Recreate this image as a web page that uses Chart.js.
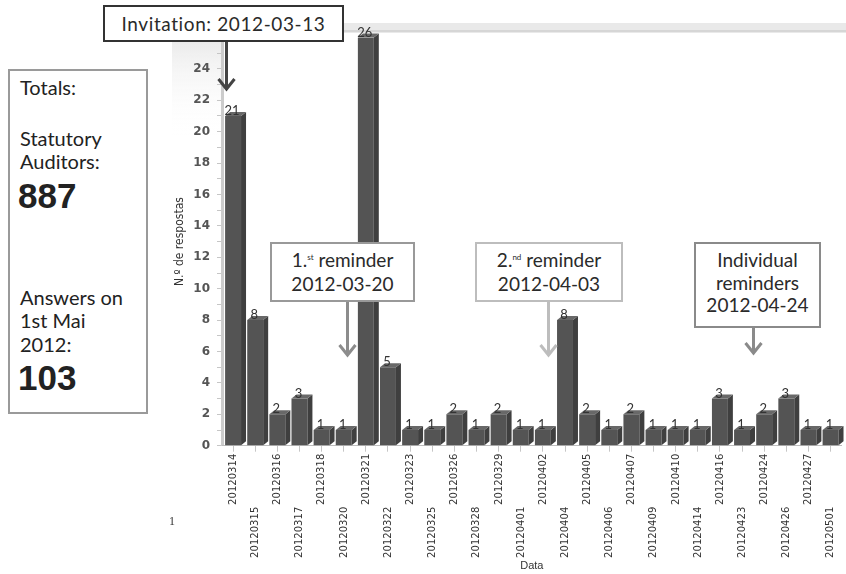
<!DOCTYPE html>
<html>
<head>
<meta charset="utf-8">
<script src="https://cdn.jsdelivr.net/npm/chart.js@4/dist/chart.umd.min.js"></script>
<style>
  html, body { margin: 0; padding: 0; background: #fff; }
  #wrap { position: relative; width: 846px; height: 574px; overflow: hidden; }
  #chart { position: absolute; left: 0; top: 0; }
  .note {
    position: absolute; box-sizing: border-box; background: #fff;
    font-family: Lato, "Open Sans", sans-serif; font-size: 19px; color: #2a2a2a;
    text-align: center; line-height: 24px; white-space: nowrap;
  }
  .note sup { font-size: 8px; vertical-align: 7px; line-height: 0; }
  #totals {
    position: absolute; left: 8px; top: 69px; width: 140px; height: 345px;
    box-sizing: border-box; border: 2px solid #9a9a9a; background: #fff;
    font-family: Lato, "Open Sans", sans-serif; color: #222;
  }
  #totals div { position: absolute; left: 10px; white-space: nowrap; font-size: 20px; line-height: 24px; }
  #totals .big { font-family: "Liberation Sans", Arial, sans-serif; font-weight: bold; font-size: 35px; line-height: 40px; left: 8px; }
  #stray { position: absolute; left: 169px; top: 514px; font-family: "Liberation Serif", serif; font-size: 12px; color: #333; }
</style>
</head>
<body>
<div id="wrap">
  <canvas id="chart" width="846" height="574"></canvas>

  <div id="totals">
    <div style="top:4px">Totals:</div>
    <div style="top:55px">Statutory</div>
    <div style="top:78px">Auditors:</div>
    <div class="big" style="top:105px">887</div>
    <div style="top:214px">Answers on</div>
    <div style="top:237px">1st Mai</div>
    <div style="top:261px">2012:</div>
    <div class="big" style="top:287px">103</div>
  </div>

  <div class="note" style="left:103px; top:5px; width:241px; height:37px; border:2px solid #333; padding-top:5px; letter-spacing:0.6px;">Invitation: 2012-03-13</div>
  <div class="note" style="left:270px; top:242px; width:145px; height:60px; border:2px solid #999; padding-top:4px;">1.<sup>st</sup> reminder<br>2012-03-20</div>
  <div class="note" style="left:475px; top:242px; width:148px; height:60px; border:2px solid #bdbdbd; padding-top:4px;">2.<sup>nd</sup> reminder<br>2012-04-03</div>
  <div class="note" style="left:694px; top:242px; width:127px; height:86px; border:2px solid #8a8a8a; padding-top:5px; line-height:22.5px;">Individual<br>reminders<br>2012-04-24</div>

  <div id="stray">1</div>
</div>

<script>
// Daily number of answers received, by date (yyyymmdd)
const categories = [
  '20120314', '20120315', '20120316', '20120317', '20120318', '20120320',
  '20120321', '20120322', '20120323', '20120325', '20120326', '20120328',
  '20120329', '20120401', '20120402', '20120404', '20120405', '20120406',
  '20120407', '20120409', '20120410', '20120414', '20120416', '20120423',
  '20120424', '20120426', '20120427', '20120501'
];
const responses = [
  21, 8, 2, 3, 1, 1,
  26, 5, 1, 1, 2, 1,
  2, 1, 1, 8, 2, 1,
  2, 1, 1, 1, 3, 1,
  2, 3, 1, 1
];
const yMax = 26;
const yLabelStep = 2;

// Arrows under the event boxes, anchored on the category axis (fractional index)
const eventArrows = [
  { at: -0.32, from: 42,  to: 90,  color: '#444444' },
  { at: 5.15,  from: 302, to: 356, color: '#8c8c8c' },
  { at: 14.22, from: 302, to: 356, color: '#bdbdbd' },
  { at: 23.5,  from: 328, to: 354, color: '#8a8a8a' }
];

const DEPTH_X = 5, DEPTH_Y = 4;
const ROW_A_HEIGHT = 60;
const LABEL_FONT = { family: '"Liberation Sans Narrow", "DejaVu Sans Condensed", sans-serif', size: 11.2 };

// light back-wall band and fading side wall behind the axis
const backdrop = {
  id: 'backdrop',
  beforeDraw(chart) {
    const { ctx, chartArea } = chart;
    ctx.save();
    ctx.fillStyle = '#e9e9e9';
    ctx.fillRect(170, 23, chart.width - 170, 10);
    ctx.fillStyle = '#d6d6d6';
    ctx.fillRect(170, 30, chart.width - 170, 2);
    const g = ctx.createLinearGradient(0, chartArea.top - 4, 0, 140);
    g.addColorStop(0, 'rgba(225,225,225,0.75)');
    g.addColorStop(1, 'rgba(255,255,255,0)');
    ctx.fillStyle = g;
    ctx.fillRect(172, chartArea.top - 4, chartArea.left - 172, 140 - chartArea.top);
    ctx.restore();
  }
};

// extruded side/top faces and the value printed above each bar
const bars3d = {
  id: 'bars3d',
  afterDatasetsDraw(chart) {
    const { ctx } = chart;
    const meta = chart.getDatasetMeta(0);
    const values = chart.data.datasets[0].data;
    ctx.save();
    meta.data.forEach((bar) => {
      const { x, y, base, width } = bar.getProps(['x', 'y', 'base', 'width'], true);
      const l = x - width / 2, r = x + width / 2;
      ctx.fillStyle = '#3f3f3f';
      ctx.beginPath();
      ctx.moveTo(r, y); ctx.lineTo(r + DEPTH_X, y - DEPTH_Y);
      ctx.lineTo(r + DEPTH_X, base - DEPTH_Y); ctx.lineTo(r, base);
      ctx.closePath(); ctx.fill();
      ctx.fillStyle = '#686868';
      ctx.beginPath();
      ctx.moveTo(l, y); ctx.lineTo(l + DEPTH_X, y - DEPTH_Y);
      ctx.lineTo(r + DEPTH_X, y - DEPTH_Y); ctx.lineTo(r, y);
      ctx.closePath(); ctx.fill();
    });
    ctx.font = '13px Lato, "DejaVu Sans", sans-serif';
    ctx.fillStyle = '#333';
    ctx.textAlign = 'center';
    ctx.textBaseline = 'alphabetic';
    meta.data.forEach((bar, i) => {
      const { x, y } = bar.getProps(['x', 'y'], true);
      ctx.fillText(String(values[i]), x - 1, y - 1);
    });
    ctx.restore();
  }
};

const arrows = {
  id: 'arrows',
  afterDraw(chart) {
    const { ctx } = chart;
    const xs = chart.scales.x;
    ctx.save();
    ctx.lineWidth = 3;
    ctx.lineCap = 'butt';
    eventArrows.forEach(a => {
      const x = Math.round(xs.getPixelForValue(a.at)) + 0.5;
      ctx.strokeStyle = a.color;
      ctx.beginPath();
      ctx.moveTo(x, a.from); ctx.lineTo(x, a.to - 2);
      ctx.stroke();
      ctx.beginPath();
      ctx.moveTo(x - 8, a.to - 11); ctx.lineTo(x, a.to - 1); ctx.lineTo(x + 8, a.to - 11);
      ctx.stroke();
    });
    ctx.restore();
  }
};

new Chart(document.getElementById('chart'), {
  type: 'bar',
  data: {
    labels: categories,
    datasets: [{
      data: responses,
      backgroundColor: '#545454',
      borderWidth: 0,
      categoryPercentage: 1,
      barPercentage: 0.72,
      xAxisID: 'x',
      yAxisID: 'y'
    }]
  },
  options: {
    responsive: false,
    animation: false,
    devicePixelRatio: 1,
    layout: { padding: { left: 170, top: 37.5, right: 0, bottom: 0 } },
    plugins: { legend: { display: false }, tooltip: { enabled: false } },
    scales: {
      y: {
        min: 0,
        max: yMax,
        afterFit(s) { s.width = 52; },
        ticks: {
          stepSize: 1,
          autoSkip: false,
          padding: 7,
          color: '#555',
          font: { family: '"DejaVu Sans", sans-serif', size: 12, weight: 'bold' },
          callback: v => (v % yLabelStep === 0 && v < yMax) ? v : ''
        },
        grid: { drawOnChartArea: false, tickLength: 5, color: '#c6c6c6' },
        border: { display: true, color: '#cccccc', width: 3 },
        title: {
          display: true,
          text: 'N.º de respostas',
          color: '#333',
          padding: { top: 3, bottom: 0 },
          font: { family: '"Liberation Sans Narrow", "DejaVu Sans Condensed", sans-serif', size: 12 }
        }
      },
      x: {
        type: 'category',
        position: 'bottom',
        offset: true,
        afterFit(s) { s.height = ROW_A_HEIGHT; },
        ticks: {
          autoSkip: false,
          minRotation: 90,
          maxRotation: 90,
          padding: 2,
          color: '#333',
          font: LABEL_FONT,
          callback: (v, i) => (i % 2 === 0 ? categories[i] : '')
        },
        grid: { drawOnChartArea: false, offset: false, tickLength: 6, color: '#c6c6c6' },
        border: { display: true, color: '#bdbdbd', width: 1 }
      },
      x2: {
        type: 'category',
        position: 'bottom',
        offset: true,
        afterFit(s) { s.height = 574 - 445.7 - ROW_A_HEIGHT; },
        ticks: {
          autoSkip: false,
          minRotation: 90,
          maxRotation: 90,
          padding: 1,
          color: '#333',
          font: LABEL_FONT,
          callback: (v, i) => (i % 2 === 1 ? categories[i] : '')
        },
        grid: { display: false, drawTicks: false },
        border: { display: false },
        title: {
          display: true,
          text: 'Data',
          color: '#333',
          padding: { top: 0, bottom: 1.5 },
          font: { family: '"Liberation Sans", Arial, sans-serif', size: 11 }
        }
      }
    }
  },
  plugins: [backdrop, bars3d, arrows]
});
</script>
</body>
</html>
